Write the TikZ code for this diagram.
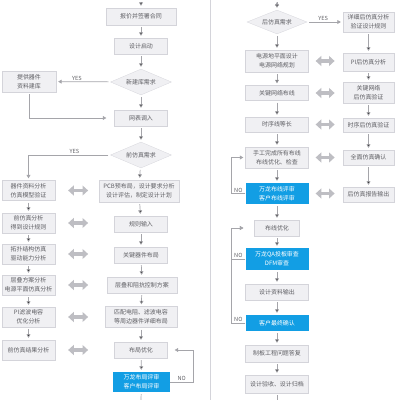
\documentclass[tikz,border=0pt]{standalone}
\usepackage{fontspec}
\newfontfamily\cjk{Noto Sans CJK SC}
\definecolor{boxfill}{RGB}{240, 240, 243}
\definecolor{boxline}{RGB}{212, 212, 218}
\definecolor{boxtext}{RGB}{95, 95, 100}
\definecolor{linegray}{RGB}{165, 165, 170}
\definecolor{dblgray}{RGB}{190, 190, 195}
\definecolor{wlblue}{RGB}{18, 158, 228}
\usetikzlibrary{arrows.meta}
\usetikzlibrary{calc}
\usetikzlibrary{shapes.geometric}
\tikzset{
  box/.style={
    draw=boxline, fill=boxfill, text=boxtext,
    font=\cjk\fontsize{8.5}{12.5}\selectfont, align=center,
    inner sep=0, minimum width=2.65cm, minimum height=0.8cm
  },
  blue box/.style={box, draw=none, fill=wlblue, text=white},
  choice/.style={box, diamond, aspect=2.3, minimum width=3.05cm, minimum height=1.3cm},
  arrow/.style={-{Triangle[length=5pt,width=5.5pt]}, draw=linegray, line width=1pt,
    shorten >=1mm, shorten <=1mm},
  twoway/.style={{Triangle[length=8pt,width=14pt]}-{Triangle[length=8pt,width=14pt]},
    draw=dblgray, line width=4.5pt},
  tag/.style={font=\cjk\fontsize{8}{10}\selectfont, text=boxtext, inner sep=1.5pt}
}
\begin{document}
\begin{tikzpicture}[x=0.05cm, y=-0.05cm]
    \useasboundingbox (0,0) rectangle (400,400);
    \draw [draw=boxline, line width=1pt] (210,0) -- (210,400);

    % left half
    \coordinate (mtop) at (141,0);
    \coordinate (mbot) at (141,400);
    \node [box, minimum width=3.5cm, minimum height=0.85cm] (m1) at (141,16.5) {报价并签署合同};
    \node [box] (m2) at (141,46) {设计启动};
    \node [choice] (m3) at (141,82) {新建库需求};
    \node [box, minimum width=2.7cm, minimum height=1.05cm] (lib) at (29,81.5)
          {提供器件\\资料建库};
    \node [box] (m4) at (141,118) {网表调入};
    \node [choice] (m5) at (141,155) {前仿真需求};
    \node [box, minimum width=4cm, minimum height=1.1cm] (m6) at (139,191)
          {PCB预布局，设计要求分析\\设计评估，制定设计计划};
    \node [box] (m7) at (141,224) {规则输入};
    \node [box] (m8) at (141,255) {关键器件布局};
    \node [box, minimum width=3.5cm] (m9) at (142,285) {层叠和阻抗控制方案};
    \node [box, minimum width=3.6cm, minimum height=1.05cm] (m10) at (141,317)
          {匹配电阻、滤波电容\\等周边器件详细布局};
    \node [box] (m11) at (141,350) {布局优化};
    \node [blue box, minimum width=2.85cm, minimum height=1cm] (m12) at (141.5,382)
          {万龙布局评审\\客户布局评审};

    \node [box, minimum height=1cm] (s1) at (28.5,190.5) {器件资料分析\\仿真模型验证};
    \node [box, minimum height=1cm] (s2) at (28.5,223) {前仿真分析\\得到设计规则};
    \node [box, minimum height=1cm] (s3) at (28.5,254) {拓扑结构仿真\\驱动能力分析};
    \node [box, minimum height=1cm] (s4) at (28.5,285) {层叠方案分析\\电源平面仿真分析};
    \node [box, minimum height=1cm] (s5) at (28.5,317) {PI滤波电容\\优化分析};
    \node [box, minimum height=1cm] (s6) at (28.5,350) {前仿真结果分析};

    % right half
    \coordinate (ptop) at (277,0);
    \coordinate (pbot) at (277,400);
    \node [choice, minimum width=3cm, minimum height=1.2cm] (p1) at (277,22) {后仿真需求};
    \node [box, minimum width=3.15cm, minimum height=1.1cm] (p2) at (277,61)
          {电源地平面设计\\电源网络规划};
    \node [box, minimum width=3.15cm, minimum height=0.75cm] (p3) at (277,93) {关键网络布线};
    \node [box, minimum width=3.15cm, minimum height=0.75cm] (p4) at (277,124.5) {时序线等长};
    \node [box, minimum width=3.15cm, minimum height=1.05cm] (p5) at (277,157.5)
          {手工完成所有布线\\布线优化、检查};
    \node [blue box, minimum width=3.15cm, minimum height=1.05cm] (p6) at (277,193.5)
          {万龙布线评审\\客户布线评审};
    \node [box, minimum width=2.25cm] (p7) at (277,228) {布线优化};
    \node [blue box, minimum width=3.15cm, minimum height=1.1cm] (p8) at (277,259)
          {万龙QA投板审查\\DFM审查};
    \node [box, minimum width=3.15cm] (p9) at (277,292) {设计资料输出};
    \node [blue box, minimum width=3.15cm] (p10) at (277,323) {客户最终确认};
    \node [box, minimum width=3.15cm, minimum height=0.85cm] (p11) at (277,353.5) {制板工程问题答复};
    \node [box, minimum width=3.15cm, minimum height=0.9cm] (p12) at (277,384) {设计验收、设计归档};

    \node [box, minimum width=2.55cm, minimum height=1cm] (q1) at (368.5,22)
          {详细后仿真分析\\验证设计规则};
    \node [box, minimum width=2.55cm, minimum height=0.9cm] (q2) at (368.5,62) {PI后仿真分析};
    \node [box, minimum width=2.55cm, minimum height=1.05cm] (q3) at (368.5,92.5)
          {关键网络\\后仿真验证};
    \node [box, minimum width=2.55cm, minimum height=0.7cm] (q4) at (368.5,125) {时序后仿真验证};
    \node [box, minimum width=2.55cm, minimum height=0.75cm] (q5) at (368.5,157.5) {全面仿真确认};
    \node [box, minimum width=2.55cm, minimum height=0.75cm] (q6) at (368.5,194.5) {后仿真报告输出};

    % flow
    \path [arrow] (mtop) edge (m1)  (m1) edge (m2)  (m2) edge (m3)  (m3) edge (m4)
          (m4) edge (m5)  (m5) edge (m6)  (m6) edge (m7)  (m7) edge (m8)
          (m8) edge (m9)  (m9) edge (m10)  (m10) edge (m11)  (m11) edge (m12)
          (s1) edge (s2)  (s2) edge (s3)  (s3) edge (s4)  (s4) edge (s5)  (s5) edge (s6)
          (ptop) edge (p1)  (p1) edge (p2)  (p2) edge (p3)  (p3) edge (p4)
          (p4) edge (p5)  (p5) edge (p6)  (p6) edge (p7)  (p7) edge (p8)
          (p8) edge (p9)  (p9) edge (p10)  (p10) edge (p11)  (p11) edge (p12)
          (q1) edge (q2)  (q2) edge (q3)  (q3) edge (q4)  (q4) edge (q5)  (q5) edge (q6);
    \draw [draw=linegray, line width=1pt, shorten <=1mm] (m12) -- (mbot);
    \draw [draw=linegray, line width=1pt, shorten <=1mm] (p12) -- (pbot);

    \draw [arrow] (m3) -- node [tag, above, pos=0.62] {YES} (lib);
    \draw [arrow, shorten >=4mm] (lib) |- (m4);
    \draw [arrow] (m5) -| node [tag, above, pos=0.22] {YES} (s1);
    \draw [arrow] (p1) -- node [tag, above, pos=0.45] {YES} (q1);

    \draw [arrow, shorten >=3.5mm, shorten <=0mm] (m12.east) -- node [tag, above] {NO} ++(23,0) |- (m11.east);
    \draw [arrow, shorten <=0mm] (p6.west) -- node [tag, above] {NO} ++(-14,0) |- (p5.west);
    \draw [arrow, shorten >=5.5mm, shorten <=0mm] (p8.west) -- node [tag, above] {NO} ++(-14,0) |- (p7.west);
    \draw [arrow, shorten >=5.5mm, shorten <=0mm] (p10.west) -- node [tag, above] {NO} ++(-14,0) |- (p7.west);

    % two-way links
    \draw [twoway] ($(s1.east)+(13,0)$) -- +(20,0);
    \draw [twoway] ($(s2.east)+(13,0)$) -- +(20,0);
    \draw [twoway] ($(s3.east)+(13,0)$) -- +(20,0);
    \draw [twoway] ($(s4.east)+(13,0)$) -- +(20,0);
    \draw [twoway] ($(s5.east)+(13,0)$) -- +(20,0);
    \draw [twoway] ($(s6.east)+(13,0)$) -- +(20,0);
    \draw [twoway] ($(p2.east)+(7,0)$) -- +(19,0);
    \draw [twoway] ($(p3.east)+(7,0)$) -- +(19,0);
    \draw [twoway] ($(p4.east)+(7,0)$) -- +(19,0);
    \draw [twoway] ($(p5.east)+(7,0)$) -- +(19,0);
    \draw [twoway] ($(p6.east)+(7,0)$) -- +(19,0);
\end{tikzpicture}
\end{document}
